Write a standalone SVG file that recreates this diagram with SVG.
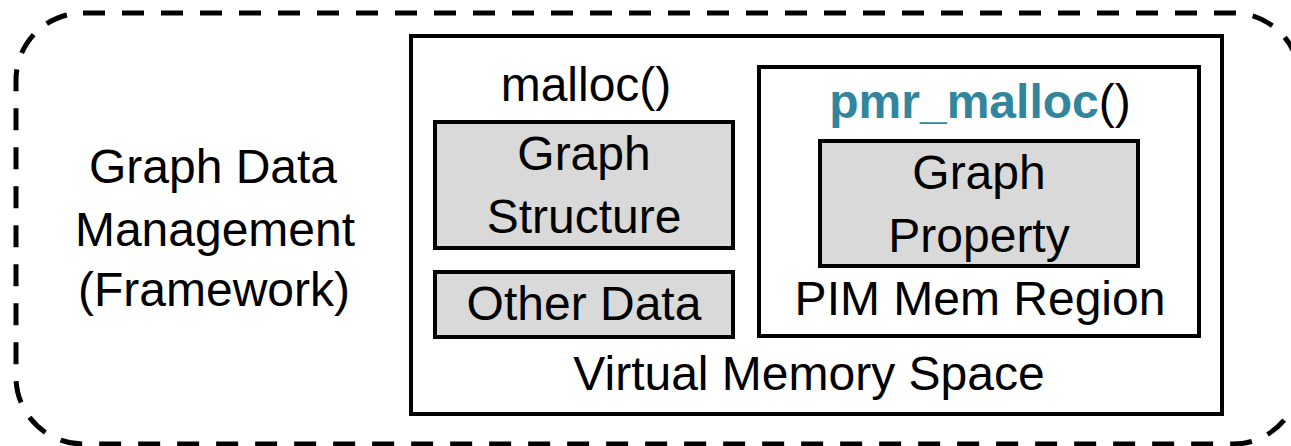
<svg xmlns="http://www.w3.org/2000/svg" width="1291" height="446" viewBox="0 0 1291 446">
<style>
text{font-family:"Liberation Sans",Arial,sans-serif;font-size:48px;fill:#000;text-anchor:middle}
.box{fill:#fff;stroke:#000;stroke-width:4}
.data{fill:#d9d9d9;stroke:#000;stroke-width:4}
.pmr{font-weight:bold;fill:#31859c}
</style>
<rect width="1291" height="446" fill="#fff"/>
<g id="framework">
<rect x="16" y="13" width="1284" height="431" rx="67" ry="67" fill="none" stroke="#000" stroke-width="5" stroke-dasharray="22 17"/>
<text x="213" y="183">Graph Data</text>
<text x="215" y="246">Management</text>
<text x="214" y="306">(Framework)</text>
</g>
<g id="virtual-memory">
<rect class="box" x="411" y="36" width="811" height="378"/>
<text x="809" y="390">Virtual Memory Space</text>
</g>
<g id="malloc">
<text x="586" y="101">malloc()</text>
</g>
<g id="graph-structure">
<rect class="data" x="435" y="122" width="298" height="126"/>
<text x="584" y="170">Graph</text>
<text x="584" y="233">Structure</text>
</g>
<g id="other-data">
<rect class="data" x="435" y="272" width="298" height="65"/>
<text x="584" y="320">Other Data</text>
</g>
<g id="pim-region">
<rect class="box" x="759" y="67" width="440" height="269"/>
<text x="980" y="118" font-size="46"><tspan class="pmr">pmr_malloc</tspan>()</text>
<text x="980" y="315">PIM Mem Region</text>
</g>
<g id="graph-property">
<rect class="data" x="820" y="141" width="318" height="125"/>
<text x="979" y="189">Graph</text>
<text x="979" y="252">Property</text>
</g>
<g id="connectors"></g>
</svg>
